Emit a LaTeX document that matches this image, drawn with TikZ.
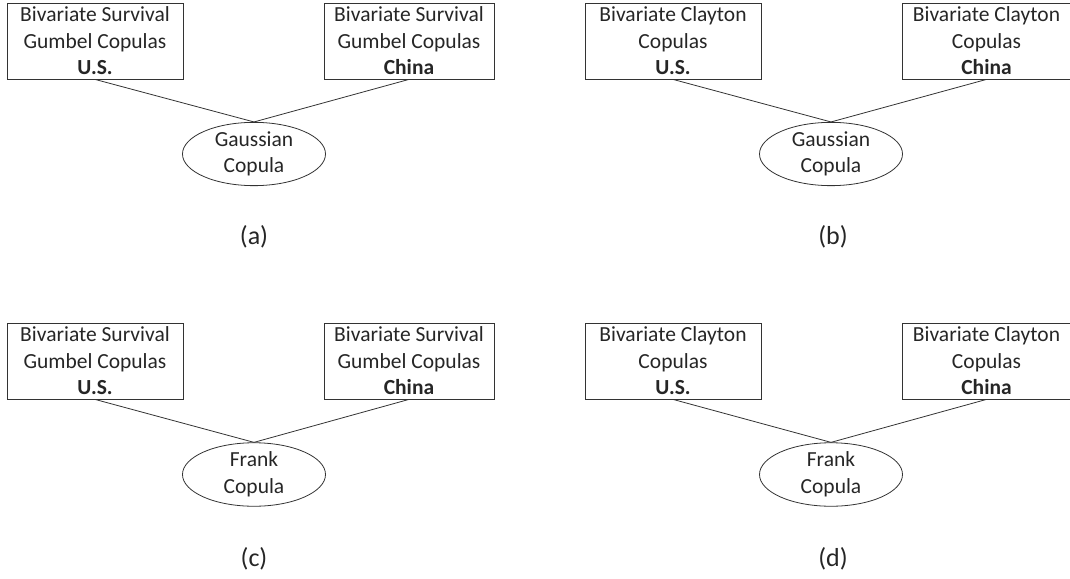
\documentclass[tikz,border=0pt]{standalone}
\usepackage{fontspec}
\setmainfont{Carlito}
\usetikzlibrary{shapes.geometric}
\begin{document}
\begin{tikzpicture}[x=1pt,y=-1pt,
  box/.style={draw=black!80,line width=0.8pt,rectangle,inner sep=0pt,align=center,
    minimum height=76pt,font=\fontsize{21.5}{26.5}\selectfont,text=black!85},
  oval/.style={draw=black!80,line width=0.8pt,ellipse,inner sep=0pt,align=center,
    minimum width=143pt,minimum height=62pt,font=\fontsize{21.5}{26.5}\selectfont,text=black!85},
  link/.style={draw=black!80,line width=0.8pt},
  sublabel/.style={font=\fontsize{26}{30}\selectfont,inner sep=0pt,text=black!85}]
\useasboundingbox (0,0) rectangle (1070,578);
% ---------- (a)
\node[box,minimum width=176pt] (aL) at (95,41) {Bivariate Survival\\Gumbel Copulas\\\textbf{U.S.}};
\node[box,minimum width=170pt] (aR) at (409,41) {Bivariate Survival\\Gumbel Copulas\\\textbf{China}};
\node[oval] (aE) at (254,154) {Gaussian\\Copula};
\draw[link] (aL.south) -- (aE.north);
\draw[link] (aR.south) -- (aE.north);
\node[sublabel] (aC) at (254,237) {(a)};
% ---------- (b)
\node[box,minimum width=176pt] (bL) at (673,41) {Bivariate Clayton\\Copulas\\\textbf{U.S.}};
\node[box,minimum width=168pt] (bR) at (986.5,41) {Bivariate Clayton\\Copulas\\\textbf{China}};
\node[oval] (bE) at (831,154) {Gaussian\\Copula};
\draw[link] (bL.south) -- (bE.north);
\draw[link] (bR.south) -- (bE.north);
\node[sublabel] (bC) at (833,237) {(b)};
% ---------- (c)
\node[box,minimum width=176pt] (cL) at (95,361) {Bivariate Survival\\Gumbel Copulas\\\textbf{U.S.}};
\node[box,minimum width=170pt] (cR) at (409,361) {Bivariate Survival\\Gumbel Copulas\\\textbf{China}};
\node[oval] (cE) at (254,474.5) {Frank\\Copula};
\draw[link] (cL.south) -- (cE.north);
\draw[link] (cR.south) -- (cE.north);
\node[sublabel] (cC) at (254,559) {(c)};
% ---------- (d)
\node[box,minimum width=176pt] (dL) at (673,361) {Bivariate Clayton\\Copulas\\\textbf{U.S.}};
\node[box,minimum width=168pt] (dR) at (986.5,361) {Bivariate Clayton\\Copulas\\\textbf{China}};
\node[oval] (dE) at (831,474.5) {Frank\\Copula};
\draw[link] (dL.south) -- (dE.north);
\draw[link] (dR.south) -- (dE.north);
\node[sublabel] (dC) at (833,559) {(d)};
\end{tikzpicture}
\end{document}
